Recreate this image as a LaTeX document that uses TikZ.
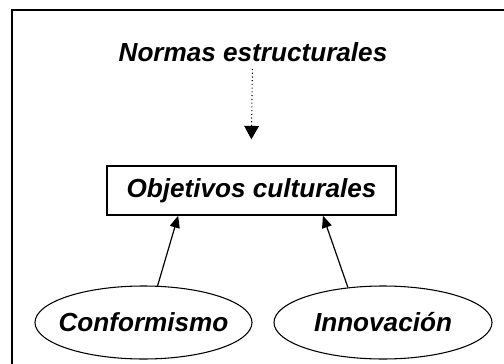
\documentclass[tikz,border=0pt]{standalone}
\usepackage{fontspec}
\setmainfont{Liberation Sans}
\usetikzlibrary{arrows.meta,shapes.geometric}
\begin{document}
\begin{tikzpicture}[x=0.75pt,y=-0.75pt,
  lbl/.style={font=\fontsize{19.6pt}{22pt}\selectfont\bfseries\itshape},
  boxnode/.style={lbl,draw,line width=1.1pt,minimum width=289*0.75pt,minimum height=49*0.75pt,inner sep=0pt},
  ovalnode/.style={lbl,draw,ellipse,line width=0.8pt,minimum height=73*0.75pt,inner ysep=0pt,inner xsep=-6.5pt},
  uparrow/.style={line width=0.9pt,-{Triangle[length=9pt,width=7.5pt]}}]
\useasboundingbox (0,0) rectangle (504,364);
\draw[line width=1.5pt] (11.5,10) rectangle (520,380);
\node[lbl] (norm) at (253,52) {Normas estructurales};
\node[boxnode] (obj) at (251.5,190.5) {Objetivos culturales};
\node[ovalnode,minimum width=217*0.75pt] (conf) at (143.5,322.5) {Conformismo};
\node[ovalnode,minimum width=218*0.75pt] (innov) at (383,322.5) {Innovación};
\draw[line width=0.8pt,dotted,-{Triangle[length=10pt,width=11pt]},shorten <=2pt,shorten >=19.5pt]
  ([xshift=-0.4pt]norm.south) -- ([xshift=-0.4pt]obj.north);
\draw[uparrow] (conf.69) -- ([xshift=-55pt]obj.south);
\draw[uparrow] (innov.135) -- ([xshift=53.6pt]obj.south);
\end{tikzpicture}
\end{document}
